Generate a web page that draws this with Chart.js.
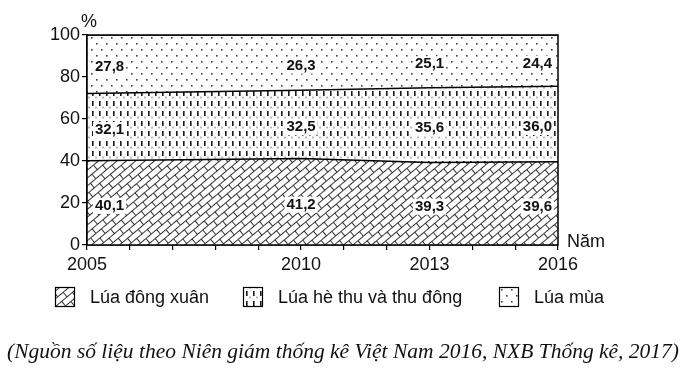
<!DOCTYPE html>
<html>
<head>
<meta charset="utf-8">
<script src="https://cdn.jsdelivr.net/npm/chart.js@4"></script>
<style>
  html, body { margin: 0; padding: 0; background: #fff; }
  #wrap { position: relative; width: 685px; height: 373px; }
</style>
</head>
<body>
<div id="wrap"><canvas id="chart"></canvas></div>
<script>
const years = [2005, 2010, 2013, 2016]
const labelYears = [2005, 2010, 2013, 2016]
const dongXuan = [40.1, 41.2, 39.3, 39.6]
const heThu = [32.1, 32.5, 35.6, 36.0]
const luaMua = [27.8, 26.3, 25.1, 24.4]
const seriesNames = ['Lúa đông xuân', 'Lúa hè thu và thu đông', 'Lúa mùa']
const yTicks = [0, 20, 40, 60, 80, 100]
const source = '(Nguồn số liệu theo Niên giám thống kê Việt Nam 2016, NXB Thống kê, 2017)'

const FONT = "'Liberation Sans', Arial, sans-serif"
Chart.defaults.font.family = FONT
Chart.defaults.color = '#111'

const makeTile = (w, h, draw) => {
  const c = document.createElement('canvas')
  c.width = w
  c.height = h
  const t = c.getContext('2d')
  t.fillStyle = '#fff'
  t.fillRect(0, 0, w, h)
  draw(t)
  return c
}

// diagonal brick hatch
const brickTile = makeTile(14, 12, t => {
  t.strokeStyle = '#333'
  t.lineWidth = 1
  t.beginPath()
  t.moveTo(0, 0.5); t.lineTo(14, 0.5)
  t.moveTo(0, 6.5); t.lineTo(14, 6.5)
  t.moveTo(0.5, 0); t.lineTo(0.5, 6.5)
  t.moveTo(7.5, 6.5); t.lineTo(7.5, 12)
  t.stroke()
})

// vertical dashes
const dashTile = makeTile(7, 10, t => {
  t.fillStyle = '#1a1a1a'
  t.fillRect(1, 1, 1.6, 5)
  t.fillStyle = '#777'
  t.fillRect(4.5, 6.5, 1, 2)
})

// sparse dots
const dotTile = makeTile(10, 12, t => {
  t.fillStyle = '#444'
  t.fillRect(1, 1, 1.6, 1.6)
  t.fillRect(6, 7, 1.6, 1.6)
})

const ctx = document.getElementById('chart').getContext('2d')
const brick = ctx.createPattern(brickTile, 'repeat')
brick.setTransform(new DOMMatrix().rotateSelf(-40))
const dashes = ctx.createPattern(dashTile, 'repeat')
const dots = ctx.createPattern(dotTile, 'repeat')
const patterns = [brick, dashes, dots]

const toPoints = arr => arr.map((v, i) => ({ x: years[i], y: v }))
const seriesValues = [dongXuan, heThu, luaMua]

const valueLabels = {
  id: 'valueLabels',
  afterDatasetsDraw(chart) {
    const { ctx, scales: { x, y } } = chart
    ctx.save()
    ctx.font = 'bold 15px ' + FONT
    ctx.textBaseline = 'middle'
    years.forEach((yr, j) => {
      let base = 0
      seriesValues.forEach(arr => {
        const v = arr[j]
        const txt = v.toFixed(1).replace('.', ',')
        const w = ctx.measureText(txt).width
        const px = x.getPixelForValue(yr)
        const py = y.getPixelForValue(base + v / 2) + 3
        let left
        if (j === 0) left = px + 8
        else if (j === years.length - 1) left = px - 6 - w
        else left = px - w / 2
        ctx.fillStyle = '#fff'
        ctx.fillRect(left - 2, py - 8, w + 4, 16)
        ctx.fillStyle = '#111'
        ctx.textAlign = 'left'
        ctx.fillText(txt, left, py)
        base += v
      })
    })
    ctx.restore()
  }
}

const frameAndText = {
  id: 'frameAndText',
  afterDraw(chart) {
    const { ctx, chartArea: a } = chart
    ctx.save()
    ctx.strokeStyle = '#000'
    ctx.lineWidth = 1.5
    ctx.strokeRect(a.left, a.top, a.right - a.left, a.bottom - a.top)

    ctx.fillStyle = '#111'
    ctx.font = '18px ' + FONT
    ctx.textBaseline = 'middle'
    ctx.textAlign = 'left'
    ctx.fillText('%', a.left - 6, a.top - 13)
    ctx.fillText('Năm', a.right + 9, a.bottom - 3)

    // legend
    const itemX = [55, 243, 499]
    const boxY = 287
    seriesNames.forEach((name, i) => {
      ctx.fillStyle = patterns[i]
      ctx.fillRect(itemX[i], boxY, 20, 20)
      ctx.strokeStyle = '#000'
      ctx.lineWidth = 1.2
      ctx.strokeRect(itemX[i] + 0.5, boxY + 0.5, 19, 19)
      ctx.fillStyle = '#111'
      ctx.font = '18px ' + FONT
      ctx.fillText(name, itemX[i] + 35, boxY + 11)
    })

    ctx.font = 'italic 21.5px "Liberation Serif", "Times New Roman", serif'
    ctx.textAlign = 'center'
    ctx.fillText(source, 343, 352)
    ctx.restore()
  }
}

new Chart(ctx, {
  type: 'line',
  data: {
    datasets: seriesValues.map((arr, i) => ({
      label: seriesNames[i],
      data: toPoints(arr),
      fill: i === 0 ? 'origin' : '-1',
      backgroundColor: patterns[i],
      borderColor: '#000',
      borderWidth: 1.5,
      pointRadius: 0,
      tension: 0
    }))
  },
  options: {
    responsive: true,
    maintainAspectRatio: false,
    animation: false,
    layout: { padding: { top: 35, right: 127, bottom: 98, left: 0 } },
    scales: {
      x: {
        type: 'linear',
        min: 2005,
        max: 2016,
        afterFit: s => { s.height = 30 },
        afterBuildTicks: s => {
          s.ticks = []
          for (let v = 2005; v <= 2016; v++) s.ticks.push({ value: v })
        },
        ticks: {
          autoSkip: false,
          maxRotation: 0,
          padding: 4,
          color: '#111',
          font: { size: 18 },
          callback: v => (labelYears.includes(v) ? String(v) : '')
        },
        grid: {
          drawOnChartArea: false,
          drawTicks: true,
          tickLength: 5,
          color: '#000',
          lineWidth: 1.2
        },
        border: { display: true, color: '#000', width: 1.5 }
      },
      y: {
        stacked: true,
        min: 0,
        max: 100,
        afterFit: s => { s.width = 87 },
        afterBuildTicks: s => { s.ticks = yTicks.map(v => ({ value: v })) },
        ticks: {
          padding: 2,
          color: '#111',
          font: { size: 18 }
        },
        grid: {
          drawOnChartArea: false,
          drawTicks: true,
          tickLength: 5,
          color: '#000',
          lineWidth: 1.2
        },
        border: { display: true, color: '#000', width: 1.5 }
      }
    },
    plugins: {
      legend: { display: false },
      tooltip: { enabled: false }
    }
  },
  plugins: [valueLabels, frameAndText]
})
</script>
</body>
</html>
